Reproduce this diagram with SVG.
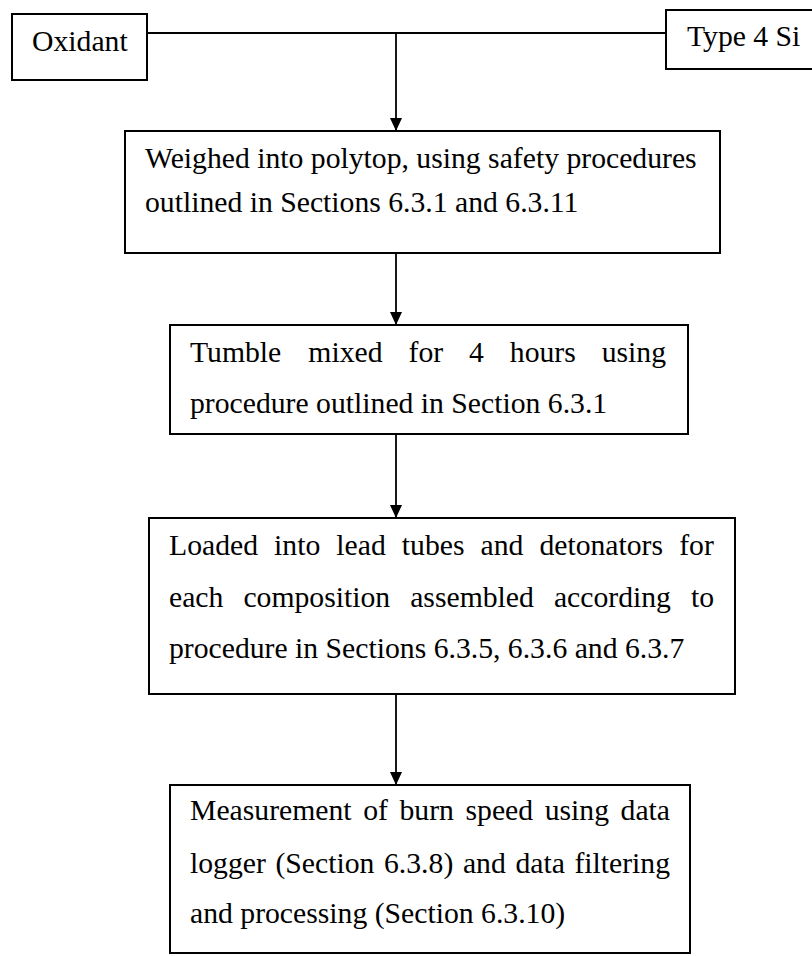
<svg xmlns="http://www.w3.org/2000/svg" width="812" height="956" viewBox="0 0 812 956">
<style>
.box{fill:#fff;stroke:#000;stroke-width:2}
.t{font-family:"Liberation Serif","Times New Roman",serif;font-size:29.7px;fill:#000}
.c{stroke:#000;stroke-width:1.8;fill:none}
</style>
<defs>
<marker id="ah" markerUnits="userSpaceOnUse" markerWidth="14" markerHeight="12" refX="13" refY="6" orient="auto">
<path d="M0,0 L13,6 L0,12 Z" fill="#000"/>
</marker>
</defs>
<rect width="812" height="956" fill="#fff"/>
<g id="connectors">
<line class="c" x1="147" y1="33" x2="666" y2="33"/>
<line class="c" x1="396" y1="33" x2="396" y2="131" marker-end="url(#ah)"/>
<line class="c" x1="396" y1="253" x2="396" y2="325" marker-end="url(#ah)"/>
<line class="c" x1="396" y1="434" x2="396" y2="518" marker-end="url(#ah)"/>
<line class="c" x1="396" y1="688" x2="396" y2="785" marker-end="url(#ah)"/>
</g>
<g id="oxidant">
<rect class="box" x="12" y="14" width="135" height="66"/>
<text class="t" x="32" y="51">Oxidant</text>
</g>
<g id="type4si">
<rect class="box" x="666" y="10" width="150" height="59"/>
<text class="t" x="687" y="46">Type 4 Si</text>
</g>
<g id="weighed">
<rect class="box" x="125" y="131" width="595" height="122"/>
<text class="t" x="145" y="168">Weighed into polytop, using safety procedures</text>
<text class="t" x="145" y="212">outlined in Sections 6.3.1 and 6.3.11</text>
</g>
<g id="tumble">
<rect class="box" x="170" y="325" width="518" height="109"/>
<text class="t" y="362"><tspan x="190">Tumble</tspan><tspan x="308.3">mixed</tspan><tspan x="408.5">for</tspan><tspan x="469">4</tspan><tspan x="509.8">hours</tspan><tspan x="601.7">using</tspan></text>
<text class="t" x="190" y="413">procedure outlined in Section 6.3.1</text>
</g>
<g id="loaded">
<rect class="box" x="149" y="518" width="586" height="176"/>
<text class="t" y="555"><tspan x="169">Loaded</tspan><tspan x="274.1">into</tspan><tspan x="336.3">lead</tspan><tspan x="401.8">tubes</tspan><tspan x="480.5">and</tspan><tspan x="539.4">detonators</tspan><tspan x="679.2">for</tspan></text>
<text class="t" y="607"><tspan x="169">each</tspan><tspan x="243.4">composition</tspan><tspan x="410.2">assembled</tspan><tspan x="553.9">according</tspan><tspan x="691">to</tspan></text>
<text class="t" x="169" y="658">procedure in Sections 6.3.5, 6.3.6 and 6.3.7</text>
</g>
<g id="measurement">
<rect class="box" x="170" y="785" width="520" height="168"/>
<text class="t" y="820"><tspan x="190">Measurement</tspan><tspan x="363.2">of</tspan><tspan x="399.5">burn</tspan><tspan x="465.5">speed</tspan><tspan x="544.7">using</tspan><tspan x="620.6">data</tspan></text>
<text class="t" y="873"><tspan x="190">logger</tspan><tspan x="275.4">(Section</tspan><tspan x="384">6.3.8)</tspan><tspan x="462.9">and</tspan><tspan x="515.4">data</tspan><tspan x="574.4">filtering</tspan></text>
<text class="t" x="190" y="923">and processing (Section 6.3.10)</text>
</g>
</svg>
